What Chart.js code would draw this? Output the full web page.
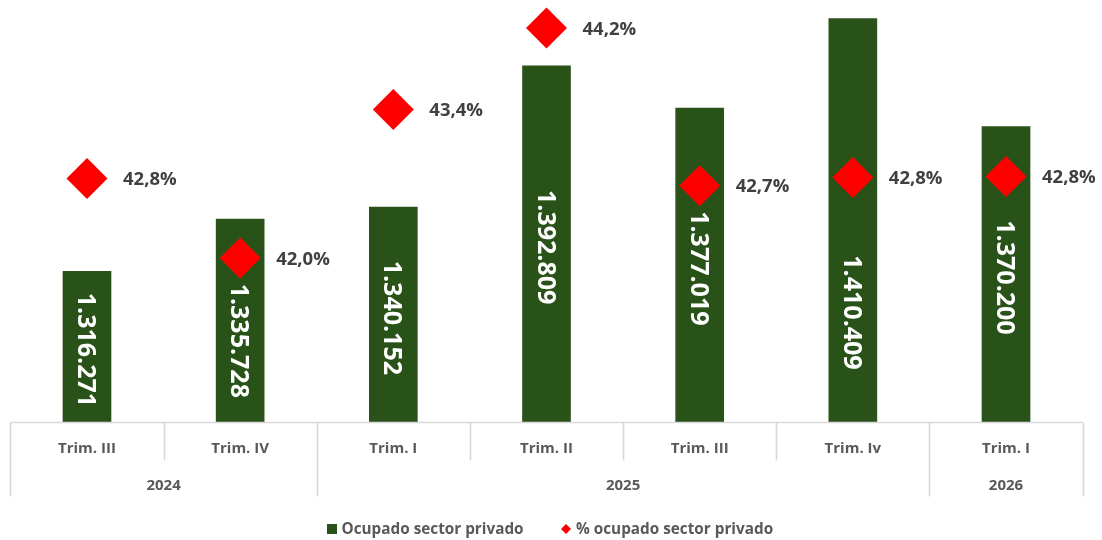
<!DOCTYPE html>
<html>
<head>
<meta charset="utf-8">
<script src="https://cdn.jsdelivr.net/npm/chart.js@4.4.1/dist/chart.umd.min.js"></script>
<style>
  html, body { margin: 0; padding: 0; background: #ffffff; }
  #wrap { width: 1102px; height: 540px; }
</style>
</head>
<body>
<div id="wrap"><canvas id="c" width="1102" height="540"></canvas></div>
<script>
// ---- Data ----
const categories = ['Trim. III', 'Trim. IV', 'Trim. I', 'Trim. II', 'Trim. III', 'Trim. Iv', 'Trim. I'];
const years = ['2024', '2024', '2025', '2025', '2025', '2025', '2026'];
const ocupadosPrivado = [1316271, 1335728, 1340152, 1392809, 1377019, 1410409, 1370200];
const pctOcupadoPrivado = [42.76, 42.0, 43.42, 44.2, 42.69, 42.77, 42.78];
const seriesNames = ['Ocupado sector privado', '% ocupado sector privado'];

// ---- Styles ----
const BAR_COLOR = '#285218';
const DIAMOND_COLOR = '#FF0000';
const GRID_COLOR = '#D9D9D9';
const AXIS_TEXT = '#595959';
const LABEL_TEXT = '#404040';
const FONT = '"Open Sans", "Liberation Sans", sans-serif';
// manual label nudges (px, along bar) as placed in the original
const barLabelShift = [3, 20, 3, 3, 3, 92, 3];

function fmtThousands(v) {
  return String(Math.round(v)).replace(/\B(?=(\d{3})+(?!\d))/g, '.');
}
function fmtPct(v) {
  return v.toFixed(1).replace('.', ',') + '%';
}

const decorPlugin = {
  id: 'decor',
  afterDatasetsDraw(chart) {
    const ctx = chart.ctx;
    const area = chart.chartArea;
    const xs = chart.scales.x;
    const ys = chart.scales.y;
    const ys2 = chart.scales.y2;
    const n = categories.length;
    const px = i => xs.getPixelForValue(i);
    const step = n > 1 ? (px(1) - px(0)) : (area.right - area.left);
    const edge = i => (i === 0 ? px(0) - step / 2 : (i === n ? px(n - 1) + step / 2 : (px(i - 1) + px(i)) / 2));

    // bar value labels (rotated)
    ctx.save();
    ctx.fillStyle = '#FFFFFF';
    ctx.font = 'bold 25px ' + FONT;
    ctx.textAlign = 'center';
    ctx.textBaseline = 'alphabetic';
    for (let i = 0; i < n; i++) {
      const top = ys.getPixelForValue(ocupadosPrivado[i]);
      const base = ys.getPixelForValue(ys.min);
      const cy = (top + base) / 2 + barLabelShift[i];
      ctx.save();
      ctx.translate(px(i), cy);
      ctx.rotate(Math.PI / 2);
      ctx.fillText(fmtThousands(ocupadosPrivado[i]), 0, 0.357 * 25);
      ctx.restore();
    }
    ctx.restore();

    // percentage labels
    ctx.save();
    ctx.fillStyle = LABEL_TEXT;
    ctx.font = 'bold 18.5px ' + FONT;
    ctx.textAlign = 'left';
    ctx.textBaseline = 'alphabetic';
    for (let i = 0; i < n; i++) {
      const y = ys2.getPixelForValue(pctOcupadoPrivado[i]);
      ctx.fillText(fmtPct(pctOcupadoPrivado[i]), px(i) + 36, y + 0.357 * 18.5);
    }
    ctx.restore();

    // category axis (two levels)
    const y0 = area.bottom;
    const yMid = y0 + 38;
    const yEnd = y0 + 74;
    ctx.save();
    ctx.strokeStyle = GRID_COLOR;
    ctx.lineWidth = 1.6;
    ctx.beginPath();
    ctx.moveTo(edge(0), y0);
    ctx.lineTo(edge(n), y0);
    for (let i = 0; i <= n; i++) {
      const full = (i === 0 || i === n || years[i] !== years[i - 1]);
      const x = Math.round(edge(i)) + 0.5;
      ctx.moveTo(x, y0);
      ctx.lineTo(x, full ? yEnd : yMid);
    }
    ctx.stroke();

    ctx.fillStyle = AXIS_TEXT;
    ctx.font = 'bold 15px ' + FONT;
    ctx.textAlign = 'center';
    ctx.textBaseline = 'alphabetic';
    for (let i = 0; i < n; i++) {
      ctx.fillText(categories[i], px(i), y0 + 25.5 + 0.357 * 15);
    }
    // year groups
    let start = 0;
    for (let i = 1; i <= n; i++) {
      if (i === n || years[i] !== years[start]) {
        const cx = (edge(start) + edge(i)) / 2;
        ctx.fillText(years[start], cx, y0 + 62.5 + 0.357 * 15);
        start = i;
      }
    }

    // legend
    const ly = 529;
    ctx.textAlign = 'left';
    ctx.font = 'bold 15.3px ' + FONT;
    ctx.fillStyle = BAR_COLOR;
    ctx.fillRect(327, ly - 5, 10, 10);
    ctx.fillStyle = AXIS_TEXT;
    ctx.fillText(seriesNames[0], 341.5, ly + 0.357 * 15);
    ctx.fillStyle = DIAMOND_COLOR;
    ctx.beginPath();
    ctx.moveTo(566 - 5, ly);
    ctx.lineTo(566, ly - 5);
    ctx.lineTo(566 + 5, ly);
    ctx.lineTo(566, ly + 5);
    ctx.closePath();
    ctx.fill();
    ctx.fillStyle = AXIS_TEXT;
    ctx.fillText(seriesNames[1], 576, ly + 0.357 * 15);
    ctx.restore();
  }
};

function draw() {
  new Chart(document.getElementById('c'), {
    type: 'bar',
    data: {
      labels: categories,
      datasets: [
        {
          type: 'bar',
          label: seriesNames[0],
          data: ocupadosPrivado,
          backgroundColor: BAR_COLOR,
          borderWidth: 0,
          barThickness: 48,
          yAxisID: 'y',
          order: 2
        },
        {
          type: 'line',
          label: seriesNames[1],
          data: pctOcupadoPrivado,
          showLine: false,
          clip: false,
          pointStyle: 'rectRot',
          pointRadius: 20.5,
          pointHoverRadius: 20.5,
          pointBackgroundColor: DIAMOND_COLOR,
          pointBorderColor: DIAMOND_COLOR,
          pointBorderWidth: 0,
          yAxisID: 'y2',
          order: 1
        }
      ]
    },
    options: {
      responsive: false,
      animation: false,
      layout: { autoPadding: false, padding: { left: 10.4, right: 19.4, top: 10, bottom: 117.5 } },
      plugins: {
        legend: { display: false },
        tooltip: { enabled: false }
      },
      scales: {
        x: { display: false },
        y: { display: false, min: 1260000, max: 1413557 },
        y2: { display: false, position: 'right', min: 40.427, max: 44.372 }
      }
    },
    plugins: [decorPlugin]
  });
}

if (document.fonts && document.fonts.load) {
  Promise.all([
    document.fonts.load('bold 25px "Open Sans"'),
    document.fonts.load('bold 15px "Open Sans"')
  ]).then(draw, draw);
} else {
  draw();
}
</script>
</body>
</html>
